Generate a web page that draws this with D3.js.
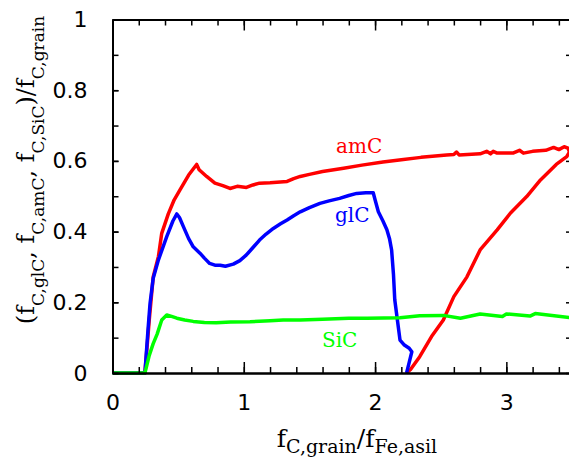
<!DOCTYPE html>
<html>
<head>
<meta charset="utf-8">
<style>
  body { margin: 0; background: #fff; }
  .tick text { font-family: "DejaVu Sans", sans-serif; font-size: 22px; fill: #000; }
  .lab { font-family: "DejaVu Serif", serif; }
</style>
<title>Carbon grain fractions</title>
</head>
<body>
<script src="https://cdn.jsdelivr.net/npm/d3@7"></script>
<script>
// data: [x, y] pairs
var amC = [[0,0],[0.247,0],[0.28,0.15],[0.31,0.272],[0.35,0.33],[0.375,0.395],[0.425,0.45],[0.47,0.49],
  [0.514,0.518],[0.58,0.56],[0.641,0.59],[0.66,0.575],[0.717,0.556],[0.78,0.537],[0.84,0.53],[0.895,0.522],
  [0.95,0.528],[1.02,0.525],[1.07,0.532],[1.12,0.537],[1.2,0.538],[1.33,0.542],[1.38,0.55],[1.43,0.556],
  [1.5,0.562],[1.6,0.57],[1.76,0.579],[1.9,0.588],[2.06,0.597],[2.2,0.603],[2.35,0.61],[2.545,0.617],
  [2.6,0.618],[2.62,0.625],[2.64,0.617],[2.8,0.62],[2.85,0.627],[2.88,0.62],[2.9,0.627],[2.93,0.622],
  [3.05,0.622],[3.1,0.63],[3.13,0.622],[3.2,0.627],[3.3,0.63],[3.36,0.638],[3.4,0.632],[3.44,0.64],
  [3.47,0.636],[3.48,0.625],[3.46,0.612],[3.38,0.59],[3.26,0.546],[3.155,0.499],[3.03,0.452],[2.93,0.405],
  [2.8,0.348],[2.7,0.272],[2.6,0.216],[2.52,0.15],[2.43,0.103],[2.34,0.046],[2.27,0.01],[2.24,0]];

var glC = [[0,0],[0.247,0],[0.27,0.12],[0.286,0.197],[0.31,0.268],[0.35,0.32],[0.413,0.386],[0.46,0.43],
  [0.49,0.45],[0.51,0.44],[0.54,0.414],[0.58,0.38],[0.615,0.357],[0.666,0.339],[0.7,0.325],[0.74,0.31],
  [0.78,0.305],[0.82,0.305],[0.86,0.302],[0.92,0.308],[0.97,0.318],[1.02,0.334],[1.07,0.355],[1.12,0.376],
  [1.17,0.393],[1.225,0.409],[1.28,0.422],[1.33,0.433],[1.38,0.445],[1.43,0.456],[1.5,0.468],[1.58,0.48],
  [1.65,0.487],[1.73,0.494],[1.8,0.502],[1.86,0.508],[1.93,0.51],[1.986,0.51],[2.0,0.49],[2.025,0.456],
  [2.06,0.43],[2.09,0.405],[2.11,0.38],[2.126,0.348],[2.14,0.28],[2.15,0.207],[2.17,0.15],[2.19,0.093],
  [2.22,0.08],[2.26,0.07],[2.28,0.06],[2.26,0.03],[2.24,0]];

var siC = [[0,0],[0.247,0],[0.28,0.05],[0.31,0.083],[0.34,0.11],[0.375,0.15],[0.413,0.164],[0.45,0.16],
  [0.49,0.155],[0.55,0.15],[0.615,0.146],[0.7,0.143],[0.79,0.142],[0.9,0.144],[1.047,0.145],[1.2,0.148],
  [1.3,0.15],[1.43,0.15],[1.6,0.152],[1.8,0.155],[1.94,0.155],[2.19,0.156],[2.34,0.162],[2.52,0.163],
  [2.65,0.155],[2.8,0.167],[2.97,0.16],[3.0,0.167],[3.18,0.161],[3.22,0.168],[3.5,0.156]];

var xTicks = [0, 1, 2, 3];
var yTicks = [0, 0.2, 0.4, 0.6, 0.8, 1];

var w = 569, h = 466;
var x = d3.scaleLinear().domain([0, 3.5]).range([112.5, 572]);
var y = d3.scaleLinear().domain([0, 1]).range([373, 19.5]);

var svg = d3.select("body").append("svg")
  .attr("width", w).attr("height", h);

// curves
var line = d3.line().x(function(d) { return x(d[0]); }).y(function(d) { return y(d[1]); });
var series = [[amC, "#ff0000"], [glC, "#0000ff"], [siC, "#00ff00"]];
series.forEach(function(s) {
  svg.append("path").datum(s[0])
    .attr("fill", "none").attr("stroke", s[1])
    .attr("stroke-width", 3.5).attr("stroke-linejoin", "round")
    .attr("d", line);
});

// axes with inward ticks on all four sides
var minorX = d3.range(0, 3.51, 0.2);
var minorY = d3.range(0, 1.01, 0.1);
function ax(g, gen) { g.call(gen); g.select(".domain").attr("stroke-width", 2); g.selectAll(".tick line").attr("stroke-width", 1.5); }

svg.append("g").attr("transform", "translate(0," + y(0) + ")")
  .call(ax, d3.axisBottom(x).tickValues(minorX).tickSize(-6).tickFormat("").tickSizeOuter(0));
svg.append("g").attr("transform", "translate(0," + y(0) + ")")
  .call(ax, d3.axisBottom(x).tickValues(xTicks).tickSize(-11).tickPadding(21).tickFormat(d3.format("d")).tickSizeOuter(0));
svg.append("g").attr("transform", "translate(0," + y(1) + ")")
  .call(ax, d3.axisTop(x).tickValues(minorX).tickSize(-6).tickFormat("").tickSizeOuter(0));
svg.append("g").attr("transform", "translate(0," + y(1) + ")")
  .call(ax, d3.axisTop(x).tickValues(xTicks).tickSize(-11).tickFormat("").tickSizeOuter(0));

svg.append("g").attr("transform", "translate(" + x(0) + ",0)")
  .call(ax, d3.axisLeft(y).tickValues(minorY).tickSize(-6).tickFormat("").tickSizeOuter(0));
svg.append("g").attr("transform", "translate(" + x(0) + ",0)")
  .call(ax, d3.axisLeft(y).tickValues(yTicks).tickSize(-6).tickPadding(25)
    .tickFormat(function(d) { return d === 0 || d === 1 ? d3.format("d")(d) : d3.format(".1f")(d); }).tickSizeOuter(0));
svg.append("g").attr("transform", "translate(" + x(3.5) + ",0)")
  .call(ax, d3.axisRight(y).tickValues(minorY).tickSize(-6).tickFormat("").tickSizeOuter(0));

svg.selectAll(".tick text").attr("fill", "#000");

// curve labels
function lbl(tx, ty, txt, col) {
  svg.append("text").attr("class", "lab").attr("x", tx).attr("y", ty)
    .attr("font-size", 20).attr("fill", col).text(txt);
}
lbl(336, 153, "amC", "#ff0000");
lbl(335, 222, "glC", "#0000ff");
lbl(322, 347, "SiC", "#00ff00");

// axis titles with subscripts; each tspan shifts relative to the one before
function title(el, parts, main, sub, shift) {
  var prev = 0;
  parts.forEach(function(p) {
    var off = p[1] ? shift : 0;
    el.append("tspan").attr("font-size", p[1] ? sub : main)
      .attr("dy", off - prev).text(p[0]);
    prev = off;
  });
}
var xt = svg.append("text").attr("class", "lab").attr("x", 357).attr("y", 447)
  .attr("text-anchor", "middle").attr("fill", "#000");
title(xt, [["f", 0], ["C,grain", 1], ["/f", 0], ["Fe,asil", 1]], 25, 19, 6);

var yt = svg.append("text").attr("class", "lab")
  .attr("transform", "translate(34,170) rotate(-90)")
  .attr("text-anchor", "middle").attr("fill", "#000");
title(yt, [["(f", 0], ["C,glC", 1], [",  f", 0], ["C,amC", 1], [",  f", 0], ["C,SiC", 1], [")/f", 0], ["C,grain", 1]], 24, 17, 10);
</script>
</body>
</html>
